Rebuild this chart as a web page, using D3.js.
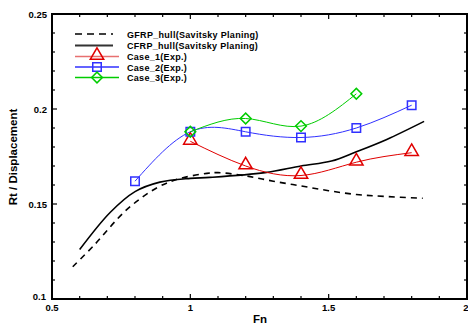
<!DOCTYPE html>
<html><head><meta charset="utf-8">
<script src="https://cdn.jsdelivr.net/npm/d3@7"></script>
<style>body{margin:0;background:#fff}svg{display:block}text{font-family:"Liberation Sans",Arial,sans-serif;font-weight:bold}</style>
</head><body>
<script>
const xTicks = [0.5, 1, 1.5, 2];
const yTicks = [0.1, 0.15, 0.2, 0.25];
const gfrpFn = [0.575,0.65,0.77,0.88,0.96,1.06,1.1,1.2,1.3,1.4,1.5,1.6,1.7,1.84];
const gfrpVal = [0.117,0.128,0.147,0.1586,0.1633,0.1661,0.1665,0.1648,0.162,0.1595,0.157,0.155,0.154,0.153];
const cfrpFn = [0.6,0.71,0.8,0.89,1.0,1.07,1.27,1.4,1.51,1.6,1.71,1.845];
const cfrpVal = [0.126,0.1455,0.1565,0.1615,0.1635,0.164,0.1665,0.170,0.1726,0.1775,0.184,0.1935];
const case1Fn = [1.0,1.2,1.4,1.6,1.8];
const case1Val = [0.183,0.170,0.165,0.172,0.177];
const case2Fn = [0.8,1.0,1.2,1.4,1.6,1.8];
const case2Val = [0.162,0.188,0.188,0.185,0.190,0.202];
const case3Fn = [1.0,1.2,1.4,1.6];
const case3Val = [0.188,0.195,0.191,0.208];
const legendLabels = ["GFRP_hull(Savitsky Planing)","CFRP_hull(Savitsky Planing)","Case_1(Exp.)","Case_2(Exp.)","Case_3(Exp.)"];

const W=468,H=329;
const svg=d3.select("body").append("svg").attr("width",W).attr("height",H);
const x=d3.scaleLinear().domain([0.5,2]).range([52,467]);
const y=d3.scaleLinear().domain([0.1,0.25]).range([299,14]);

// minor ticks
const xMinor=d3.range(0.5,2.0001,0.1);
const yMinor=d3.range(0.1,0.25001,0.01);
const g=svg.append("g");
xMinor.forEach(v=>{
  const major=xTicks.some(t=>Math.abs(t-v)<1e-6);
  const L=major?5:3;
  g.append("line").attr("x1",x(v)).attr("x2",x(v)).attr("y1",y(0.1)).attr("y2",y(0.1)-L).attr("stroke","#000").attr("stroke-width",1.2);
  g.append("line").attr("x1",x(v)).attr("x2",x(v)).attr("y1",y(0.25)).attr("y2",y(0.25)+L).attr("stroke","#000").attr("stroke-width",1.2);
});
yMinor.forEach(v=>{
  const major=yTicks.some(t=>Math.abs(t-v)<1e-6);
  const L=major?5:3;
  g.append("line").attr("y1",y(v)).attr("y2",y(v)).attr("x1",x(0.5)).attr("x2",x(0.5)+L).attr("stroke","#000").attr("stroke-width",1.2);
  g.append("line").attr("y1",y(v)).attr("y2",y(v)).attr("x1",x(2)).attr("x2",x(2)-L).attr("stroke","#000").attr("stroke-width",1.2);
});
// frame
svg.append("rect").attr("x",x(0.5)).attr("y",y(0.25)).attr("width",x(2)-x(0.5)).attr("height",y(0.1)-y(0.25))
  .attr("fill","none").attr("stroke","#000").attr("stroke-width",2);

// tick labels
const fmtY=d=>d===0.1?"0.1":d===0.15?"0.15":d===0.2?"0.2":"0.25";
yTicks.forEach(v=>{
  svg.append("text").attr("x",v===0.1?46:47).attr("y",y(v)+(v===0.1?1:3.5)).attr("text-anchor","end").attr("font-size",9.5).text(fmtY(v));
});
xTicks.forEach(v=>{
  svg.append("text").attr("x",v===2?466:x(v)).attr("y",311).attr("text-anchor","middle").attr("font-size",9.5).text(v===1?"1":v===2?"2":String(v));
});
svg.append("text").attr("x",260).attr("y",323).attr("text-anchor","middle").attr("font-size",11.5).text("Fn");
svg.append("text").attr("transform","translate(17,157) rotate(-90)").attr("text-anchor","middle").attr("font-size",11.5).text("Rt / Displacement");

const lineGen=(c)=>d3.line().x(d=>x(d[0])).y(d=>y(d[1])).curve(c);
const zip=(a,b)=>a.map((v,i)=>[v,b[i]]);

svg.append("path").attr("d",lineGen(d3.curveCatmullRom)(zip(gfrpFn,gfrpVal))).attr("fill","none").attr("stroke","#000").attr("stroke-width",1.6).attr("stroke-dasharray","6,5");
svg.append("path").attr("d",lineGen(d3.curveCatmullRom)(zip(cfrpFn,cfrpVal))).attr("fill","none").attr("stroke","#000").attr("stroke-width",1.6);

const cases=[
  {fn:case1Fn,val:case1Val,color:"#e00000",sym:d3.symbolTriangle,size:78,rot:0,dy:-1},
  {fn:case2Fn,val:case2Val,color:"#3030ff",sym:d3.symbolSquare,size:72,rot:0,dy:0},
  {fn:case3Fn,val:case3Val,color:"#00cc00",sym:d3.symbolSquare,size:58,rot:45,dy:0},
];
cases.forEach(c=>{
  svg.append("path").attr("d",lineGen(d3.curveNatural)(zip(c.fn,c.val))).attr("fill","none").attr("stroke",c.color).attr("stroke-width",1);
  svg.selectAll(null).data(zip(c.fn,c.val)).enter().append("path")
    .attr("transform",d=>`translate(${x(d[0])},${y(d[1])+c.dy}) rotate(${c.rot})`)
    .attr("d",d3.symbol().type(c.sym).size(c.size)).attr("fill","none").attr("stroke",c.color).attr("stroke-width",1.5);
});

// legend
const lg=svg.append("g");
const ly=[34,45.5,56.5,67,77.5];
legendLabels.forEach((t,i)=>{
  const yy=ly[i];
  if(i===0){
    lg.append("line").attr("x1",75).attr("x2",113).attr("y1",yy).attr("y2",yy).attr("stroke","#000").attr("stroke-width",1.5).attr("stroke-dasharray","7,5");
  } else if(i===1){
    lg.append("line").attr("x1",75).attr("x2",113).attr("y1",yy).attr("y2",yy).attr("stroke","#333").attr("stroke-width",2);
  } else {
    const c=cases[i-2];
    lg.append("line").attr("x1",75).attr("x2",119).attr("y1",yy).attr("y2",yy).attr("stroke",i===2?"#e87070":c.color).attr("stroke-width",1.4);
    lg.append("path").attr("transform",`translate(97,${yy+c.dy}) rotate(${c.rot})`).attr("d",d3.symbol().type(c.sym).size(c.size)).attr("fill","none").attr("stroke",c.color).attr("stroke-width",1.5);
  }
  lg.append("text").attr("x",127).attr("y",yy+3.5).attr("font-size",9).attr("letter-spacing",0.3).text(t);
});
</script>
</body></html>
